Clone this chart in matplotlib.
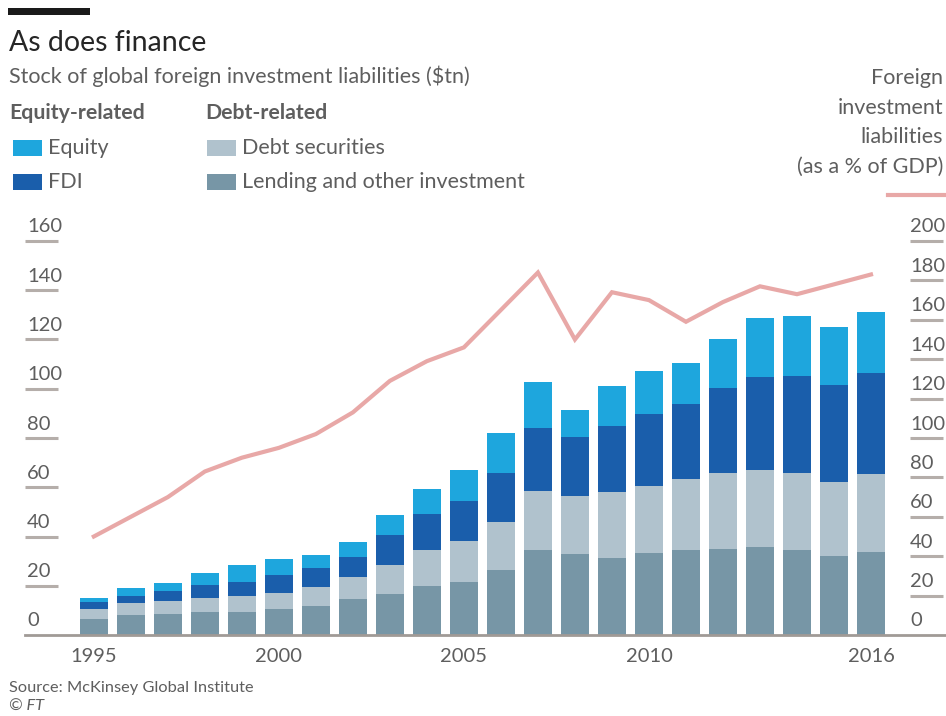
import matplotlib
matplotlib.use("Agg")
import matplotlib.pyplot as plt
import matplotlib.transforms as mtransforms
from matplotlib.patches import Rectangle
from matplotlib.lines import Line2D

plt.rcParams['font.family'] = ['Lato', 'DejaVu Sans']

years = list(range(1995, 2017))
lending = [6.4, 8.1, 8.4, 9.5, 9.5, 10.4, 11.8, 14.5, 16.6, 19.9, 21.7,
           26.4, 34.5, 32.9, 31.4, 33.4, 34.5, 34.8, 35.9, 34.5, 32.2, 33.6]
debt_securities = [4.0, 4.8, 5.5, 5.7, 6.3, 6.8, 7.6, 9.2, 11.8, 14.6, 16.6,
                   19.6, 24.0, 23.7, 26.5, 27.1, 28.7, 30.9, 31.1, 31.4, 30.1, 31.7]
fdi = [2.9, 3.1, 4.0, 5.1, 5.9, 7.2, 7.9, 7.8, 12.2, 14.6, 16.2,
       19.7, 25.7, 23.7, 27.0, 29.2, 30.6, 34.7, 37.6, 39.4, 39.2, 41.2]
equity = [1.6, 3.0, 3.4, 4.7, 6.7, 6.3, 5.2, 6.4, 8.1, 10.1, 12.5,
          16.2, 18.4, 11.1, 16.2, 17.6, 16.8, 19.8, 24.0, 24.2, 23.7, 24.5]
pct_gdp = [50, 60, 70, 83, 90, 95, 102, 113, 129, 139, 146,
           165, 184, 150, 174, 170, 159, 169, 177, 173, 178, 183]

left_ticks = [0, 20, 40, 60, 80, 100, 120, 140, 160]
right_ticks = [0, 20, 40, 60, 80, 100, 120, 140, 160, 180, 200]
year_labels = [1995, 2000, 2005, 2010, 2016]

C_EQ = '#1ea6dd'
C_FDI = '#1a5eab'
C_DEBT = '#b0c2cd'
C_LEND = '#7796a6'
C_LINE = '#e8a8a7'
C_TEXT = '#5e5e5e'
C_TICK = '#b5aeaa'

W, H = 946, 716
fig = plt.figure(figsize=(W / 100, H / 100), dpi=100)
fig.patch.set_facecolor('white')


def fx(x):
    return x / W


def fy(y):
    return 1 - y / H


ax = fig.add_axes([fx(25), fy(635), fx(945) - fx(25), fy(241) - fy(635)])
ax.set_xlim(1993.14, 2018.0)
ax.set_ylim(0, 160)
for s in ax.spines.values():
    s.set_visible(False)
ax.set_xticks([])
ax.set_yticks([])
ax.patch.set_alpha(0)

ax2 = ax.twinx()
ax2.set_ylim(0, 200)
for s in ax2.spines.values():
    s.set_visible(False)
ax2.set_yticks([])
ax2.patch.set_alpha(0)

# stacked bars
bw = 0.77
b1 = [a + b for a, b in zip(lending, debt_securities)]
b2 = [a + b for a, b in zip(b1, fdi)]
ax.bar(years, lending, bw, color=C_LEND, zorder=3)
ax.bar(years, debt_securities, bw, bottom=lending, color=C_DEBT, zorder=3)
ax.bar(years, fdi, bw, bottom=b1, color=C_FDI, zorder=3)
ax.bar(years, equity, bw, bottom=b2, color=C_EQ, zorder=3)

# baseline
ax.axhline(0, color='#a09a96', lw=2.0, zorder=4, clip_on=False)

TICK_FS = 14.5

# short tick marks with labels sitting on top
lt = mtransforms.blended_transform_factory(ax.transAxes, ax.transData)
for v in left_ticks:
    if v > 0:
        ax.plot([0, 33 / 920], [v, v], transform=lt, color=C_TICK, lw=2.2,
                solid_capstyle='butt', clip_on=False, zorder=2)
    off = mtransforms.offset_copy(lt, fig=fig, x=0, y=14, units='dots')
    ax.text(2 / 920, v, str(v), transform=off, ha='left', va='center',
            fontsize=TICK_FS, color=C_TEXT)

rt = mtransforms.blended_transform_factory(ax2.transAxes, ax2.transData)
for v in right_ticks:
    if v > 0:
        ax2.plot([885 / 920, 918 / 920], [v, v], transform=rt, color=C_TICK,
                 lw=2.2, solid_capstyle='butt', clip_on=False, zorder=2)
    off = mtransforms.offset_copy(rt, fig=fig, x=0, y=14, units='dots')
    ax2.text(885 / 920, v, str(v), transform=off, ha='left', va='center',
             fontsize=TICK_FS, color=C_TEXT)

# line on secondary axis
ax2.plot(years, pct_gdp, color=C_LINE, lw=3.0, zorder=5,
         solid_joinstyle='miter')

# year labels
xt = mtransforms.blended_transform_factory(ax.transData, fig.transFigure)
for yr in year_labels:
    ax.text(yr, fy(656), str(yr), transform=xt, ha='center', va='center',
            fontsize=TICK_FS, color=C_TEXT)

# header
fig.add_artist(Rectangle((fx(8), fy(15)), fx(90) - fx(8), fy(8) - fy(15),
                         transform=fig.transFigure, color='#1a1a1a', lw=0))
fig.text(fx(9), fy(43), 'As does finance', fontsize=20.5, color='#262626',
         va='center', ha='left')
fig.text(fx(9), fy(76), 'Stock of global foreign investment liabilities ($tn)',
         fontsize=15.5, color=C_TEXT, va='center', ha='left')
fig.text(fx(9), fy(113), 'Equity-related', fontsize=15.3, color=C_TEXT,
         va='center', ha='left', fontweight='bold')
fig.text(fx(205), fy(113), 'Debt-related', fontsize=15.3, color=C_TEXT,
         va='center', ha='left', fontweight='bold')

legend_items = [
    (13, 148, C_EQ, 'Equity'),
    (13, 182, C_FDI, 'FDI'),
    (207, 148, C_DEBT, 'Debt securities'),
    (207, 182, C_LEND, 'Lending and other investment'),
]
for x, y, c, lab in legend_items:
    fig.add_artist(Rectangle((fx(x), fy(y + 8)), fx(29), fy(0) - fy(16),
                             transform=fig.transFigure, color=c, lw=0))
    fig.text(fx(x + 35), fy(y), lab, fontsize=15.5, color=C_TEXT,
             va='center', ha='left')

for txt, y in [('Foreign', 78), ('investment', 108), ('liabilities', 137),
               ('(as a % of GDP)', 167)]:
    fig.text(fx(943), fy(y), txt, fontsize=15.5, color=C_TEXT,
             va='center', ha='right')
fig.add_artist(Line2D([fx(888), fx(945)], [fy(195), fy(195)],
                      transform=fig.transFigure, color=C_LINE, lw=3.0))

fig.text(fx(9), fy(688), 'Source: McKinsey Global Institute', fontsize=11.8,
         color=C_TEXT, va='center', ha='left')
fig.text(fx(9), fy(707), '© FT', fontsize=11.8, color=C_TEXT, va='center',
         ha='left', style='italic')

fig.savefig('out.png', dpi=100, facecolor='white')
